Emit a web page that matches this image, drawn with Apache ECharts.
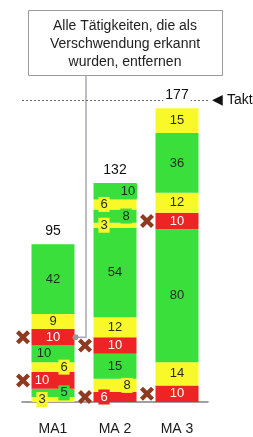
<!DOCTYPE html>
<html>
<head>
<meta charset="utf-8">
<script src="https://cdn.jsdelivr.net/npm/echarts@6/dist/echarts.min.js"></script>
<style>
  html, body { margin: 0; padding: 0; background: #fff; }
  #chart { width: 253px; height: 437px; }
</style>
</head>
<body>
<div id="chart"></div>
<script>
const categories = ['MA1', 'MA 2', 'MA 3']
// segments bottom -> top, g = Wertschöpfung, y = Nebentätigkeit, r = Verschwendung
const ma1Values = [3, 5, 10, 6, 10, 10, 9, 42]
const ma1Kinds = ['y', 'g', 'r', 'y', 'g', 'r', 'y', 'g']
const ma2Values = [6, 8, 15, 10, 12, 54, 3, 8, 6, 10]
const ma2Kinds = ['r', 'y', 'g', 'r', 'y', 'g', 'y', 'g', 'y', 'g']
const ma3Values = [10, 14, 80, 10, 12, 36, 15]
const ma3Kinds = ['r', 'y', 'g', 'r', 'y', 'g', 'y']
const totals = [95, 132, 177]
const taktValue = 182
const calloutLines = ['Alle Tätigkeiten, die als', 'Verschwendung erkannt', 'wurden, entfernen']

// sideways nudge of the small value labels (px)
const ma1LabelShift = [-11, 11, -11, 11, -9, 0, 0, 0]
const ma2LabelShift = [-11, 12, 0, 0, 0, 0, -11, 11, -11, 13]
const ma3LabelShift = [0, 0, 0, 0, 0, 0, 0]

const kindColors = { g: '#3BDF3B', y: '#F9F92A', r: '#EE2424' }
const font = 'Liberation Sans, Arial, sans-serif'
const barWidth = 43

const columns = [
  { values: ma1Values, kinds: ma1Kinds, shift: ma1LabelShift },
  { values: ma2Values, kinds: ma2Kinds, shift: ma2LabelShift },
  { values: ma3Values, kinds: ma3Kinds, shift: ma3LabelShift }
]
const layerCount = Math.max(...columns.map((c) => c.values.length))

const barSeries = []
for (let k = 0; k < layerCount; k++) {
  barSeries.push({
    type: 'bar',
    stack: 'time',
    barWidth,
    z: 2,
    data: columns.map((col) => {
      if (col.values[k] === undefined) return '-'
      const color = kindColors[col.kinds[k]]
      const shift = col.shift[k]
      return {
        value: col.values[k],
        itemStyle: { color },
        label: {
          offset: [shift, 0],
          backgroundColor: shift ? color : 'transparent',
          padding: shift ? [1, 2] : 0,
          color: col.kinds[k] === 'r' ? '#fff' : '#1d2a1d'
        }
      }
    }),
    label: { show: true, position: 'inside', fontSize: 13, fontFamily: font }
  })
}

// centre of every red (waste) segment, for the X marks
const wastePoints = []
columns.forEach((col, i) => {
  let base = 0
  col.values.forEach((v, k) => {
    if (col.kinds[k] === 'r') wastePoints.push([i, base + v / 2])
    base += v
  })
})

const chart = echarts.init(document.getElementById('chart'))
chart.setOption({
  animation: false,
  grid: { left: 22, right: 45, top: 70, bottom: 35 },
  xAxis: {
    type: 'category',
    data: categories,
    axisLine: { lineStyle: { color: '#808080', width: 1.5 } },
    axisTick: { show: false },
    axisLabel: { color: '#1a1a1a', fontSize: 14, fontFamily: font, margin: 20 }
  },
  yAxis: { type: 'value', min: 0, max: 200, show: false },
  series: [
    ...barSeries,
    {
      type: 'scatter',
      z: 4,
      symbol: 'path://M0,3 L3,0 L7,4 L11,0 L14,3 L10,7 L14,11 L11,14 L7,10 L3,14 L0,11 L4,7 Z',
      symbolSize: 14,
      symbolOffset: [-30, 0],
      itemStyle: { color: '#8E3A20', opacity: 1 },
      data: wastePoints
    },
    {
      type: 'scatter',
      z: 5,
      symbolSize: 0,
      itemStyle: { opacity: 1 },
      data: totals.map((t, i) => [i, t]),
      label: {
        show: true,
        position: 'top',
        distance: 6,
        formatter: (p) => p.value[1],
        color: '#111',
        fontSize: 14,
        fontFamily: font,
        backgroundColor: '#fff',
        padding: [0, 2]
      },
      markLine: {
        silent: true,
        symbol: 'none',
        data: [{ yAxis: taktValue }],
        lineStyle: { type: [2, 2], color: '#666', width: 1 },
        label: { position: 'end', formatter: '◀ Takt', color: '#111', fontSize: 14, fontFamily: font, distance: 4 }
      }
    }
  ]
})

// callout box with a leader line to the upper waste block of MA1
const target = wastePoints.filter((p) => p[0] === 0)[1]
const pt = chart.convertToPixel({ gridIndex: 0 }, target)
const edgeX = pt[0] + barWidth / 2 + 1
chart.setOption({
  graphic: [
    {
      type: 'rect',
      shape: { x: 28.5, y: 10.5, width: 194, height: 65 },
      style: { fill: '#fff', stroke: '#9a9a9a', lineWidth: 1 },
      z: 10
    },
    ...calloutLines.map((line, idx) => ({
      type: 'text',
      x: 125,
      y: 26 + idx * 18,
      style: {
        text: line,
        fill: '#222',
        fontSize: 14,
        fontFamily: font,
        align: 'center',
        verticalAlign: 'middle'
      },
      z: 11
    })),
    {
      type: 'polyline',
      shape: { points: [[86, 76], [86, pt[1]], [edgeX, pt[1]]] },
      style: { stroke: '#a8a8b8', lineWidth: 1.5, fill: null },
      z: 1
    },
    {
      type: 'circle',
      shape: { cx: edgeX, cy: pt[1], r: 3 },
      style: { fill: '#999' },
      z: 6
    }
  ]
})
</script>
</body>
</html>
